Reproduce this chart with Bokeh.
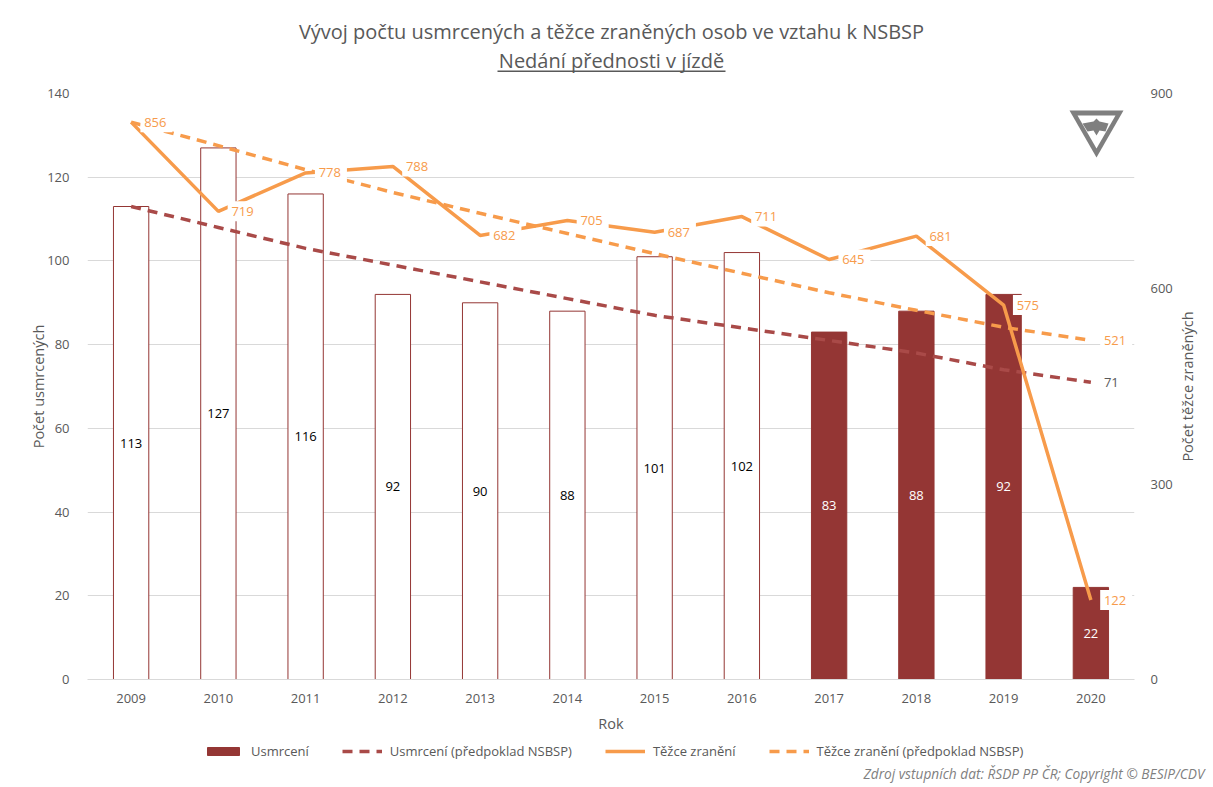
import math
from bokeh.plotting import figure
from bokeh.layouts import column, row
from bokeh.models import (ColumnDataSource, Range1d, FactorRange, LinearAxis, FixedTicker, LabelSet, Label,
                          Legend, LegendItem, BoxAnnotation, PolyAnnotation)
from bokeh.core.properties import value
from bokeh.transform import dodge
from bokeh.embed import file_html
from bokeh.resources import INLINE

years = ["2009","2010","2011","2012","2013","2014","2015","2016","2017","2018","2019","2020"]
deaths = [113,127,116,92,90,88,101,102,83,88,92,22]
deaths_plan = [113,108,103,99,95,91,87,84,81,78,74,71]
injuries = [856,719,778,788,682,705,687,711,645,681,575,122]
injuries_plan = [856,820,783,748,716,685,654,624,594,567,541,521]
FONT = "Open Sans"
RED = "#943634"
RED_DASH = "#A94A48"
ORANGE = "#F79B4B"
GREY = "#595959"
GRID = "#D9D9D9"


def strip(width, height):
    s = figure(width=width, height=height, output_backend="svg", toolbar_location=None,
               x_range=Range1d(-100, -99), y_range=Range1d(-100, -99), x_axis_location=None, y_axis_location=None,
               min_border_left=0, min_border_right=0, min_border_top=0, min_border_bottom=0, frame_align=False,
               outline_line_color=None, background_fill_color="white", border_fill_color="white")
    s.xgrid.visible = False
    s.ygrid.visible = False
    return s


# header strip: the two-line title
h = strip(1213, 78)
h.add_layout(Label(x=611, y=47, x_units="screen", y_units="screen", text_align="center", text_baseline="middle",
                   text="Vývoj počtu usmrcených a těžce zraněných osob ve vztahu k NSBSP", text_font=FONT,
                   text_font_size="20px", text_color=GREY))
h.add_layout(Label(x=611, y=18, x_units="screen", y_units="screen", text_align="center", text_baseline="middle",
                   text="Nedání přednosti v jízdě", text_font=FONT, text_font_size="20px", text_color=GREY))
h.add_layout(BoxAnnotation(left=497, right=725, top=8, bottom=6.5, left_units="screen", right_units="screen",
                           top_units="screen", bottom_units="screen", fill_color=GREY, fill_alpha=1,
                           line_color=None, level="overlay"))

# main chart
p = figure(width=1175, height=659, output_backend="svg", toolbar_location=None,
           x_range=FactorRange(factors=years, range_padding=0),
           y_range=Range1d(0, 140), min_border_left=87, min_border_right=41, frame_align=False,
           min_border_top=15, min_border_bottom=58, outline_line_color=None,
           background_fill_color="white", border_fill_color="white")
p.extra_y_ranges = {"inj": Range1d(0, 900)}

src = ColumnDataSource(dict(year=years, plan=deaths_plan, inj=injuries, inj_plan=injuries_plan,
                            il=[str(i) for i in injuries]))
early = ColumnDataSource(dict(year=years[:8], deaths=deaths[:8], mid=[d / 2 for d in deaths[:8]], t=[str(d) for d in deaths[:8]]))
late = ColumnDataSource(dict(year=years[8:], deaths=deaths[8:], mid=[d / 2 for d in deaths[8:]], t=[str(d) for d in deaths[8:]]))
end_inj = ColumnDataSource(dict(year=years[-1:], v=injuries_plan[-1:], t=[str(injuries_plan[-1])]))
end_d = ColumnDataSource(dict(year=years[-1:], v=deaths_plan[-1:], t=[str(deaths_plan[-1])]))

p.xgrid.visible = False
p.ygrid.grid_line_color = GRID
p.ygrid.ticker = FixedTicker(ticks=[0,20,40,60,80,100,120,140])

p.vbar(x="year", top="deaths", width=0.405, source=early, fill_color="white", line_color=RED, line_width=1)
p.vbar(x="year", top="deaths", width=0.405, source=late, fill_color=RED, line_color=RED, line_width=1)
p.line("year", "plan", source=src, color=RED_DASH, line_width=3.5, line_dash="10 7")
p.line("year", "inj", source=src, color=ORANGE, line_width=3.5, y_range_name="inj")
p.line("year", "inj_plan", source=src, color=ORANGE, line_width=3.5, line_dash="10 7", y_range_name="inj")

# white boxes behind the line labels
shift = dodge("year", 0.29, range=p.x_range)
p.rect(x=shift, y="inj", width=32, height=20, width_units="screen", height_units="screen", source=src,
       fill_color="white", line_color=None, y_range_name="inj")
p.rect(x=shift, y="v", width=32, height=20, width_units="screen", height_units="screen", source=end_inj,
       fill_color="white", line_color=None, y_range_name="inj")

# axes
p.yaxis.ticker = FixedTicker(ticks=[0,20,40,60,80,100,120,140])
p.yaxis.axis_label = "Počet usmrcených"
p.xaxis.axis_label = "Rok"
right = LinearAxis(y_range_name="inj", ticker=FixedTicker(ticks=[0,300,600,900]))
p.add_layout(right, "right")
for ax in (p.xaxis[0], p.yaxis[0], right):
    ax.axis_line_color = None
    ax.major_tick_line_color = None
    ax.minor_tick_line_color = None
    ax.major_label_text_font = FONT
    ax.major_label_text_font_size = "13px"
    ax.major_label_text_color = GREY
    ax.axis_label_text_font = FONT
    ax.axis_label_text_font_size = "14.5px"
    ax.axis_label_text_font_style = "normal"
    ax.axis_label_text_color = GREY
p.xaxis[0].axis_line_color = GRID
p.xaxis[0].major_label_standoff = 8
p.xaxis[0].axis_label_standoff = 8
p.yaxis[0].major_label_standoff = 12
p.yaxis[0].axis_label_standoff = -4
right.major_label_standoff = 10

# right axis title, reading upward
r = strip(38, 659)
r.add_layout(Label(x=12, y=351, x_units="screen", y_units="screen", text_align="center", text_baseline="middle",
                   angle=math.pi / 2, text="Počet těžce zraněných", text_font=FONT, text_font_size="14.5px",
                   text_color=GREY))

# bar value labels
for s, c in ((early, "black"), (late, "white")):
    p.add_layout(LabelSet(x="year", y="mid", text="t", source=s, text_align="center", text_baseline="middle",
                          text_font=value(FONT), text_font_size="13px", text_color=c))

# line value labels
p.add_layout(LabelSet(x="year", y="inj", text="il", source=src, y_range_name="inj", text_align="left",
                      text_baseline="middle", x_offset=13, text_font=value(FONT), text_font_size="13px",
                      text_color=ORANGE))
p.add_layout(LabelSet(x="year", y="v", text="t", source=end_inj, y_range_name="inj", text_align="left",
                      text_baseline="middle", x_offset=13, text_font=value(FONT), text_font_size="13px",
                      text_color=ORANGE))
p.add_layout(LabelSet(x="year", y="v", text="t", source=end_d, text_align="left",
                      text_baseline="middle", x_offset=13, text_font=value(FONT), text_font_size="13px",
                      text_color=GREY))

# logo (frame-relative screen units, y up)
LOGO = "#7F7F7F"
def poly(xs, ys, c):
    p.add_layout(PolyAnnotation(xs=xs, ys=ys, xs_units="screen", ys_units="screen", fill_color=c, fill_alpha=1,
                                line_color=None, level="overlay"))
poly([982,1036,1009], [569,569,522], LOGO)
poly([990,1028,1009], [564,564,531], "white")
poly([995,1006,1009,1012,1021,1018,1012,1009,1006,1000], [556,558,561,558,556,548,549,544,549,548], LOGO)

# footer strip: legend and source note (its glyphs lie outside the strip's ranges, only the keys show)
f = strip(1213, 50)
idx = list(range(len(years)))
k0 = f.vbar(x=idx, top=deaths, width=0.4, fill_color=RED, line_color=RED)
k1 = f.line(idx, deaths_plan, color=RED_DASH, line_width=3.5, line_dash="10 7")
k2 = f.line(idx, injuries, color=ORANGE, line_width=3.5)
k3 = f.line(idx, injuries_plan, color=ORANGE, line_width=3.5, line_dash="10 7")
leg = Legend(items=[LegendItem(label="Usmrcení", renderers=[k0]),
                    LegendItem(label="Usmrcení (předpoklad NSBSP)", renderers=[k1]),
                    LegendItem(label="Těžce zranění", renderers=[k2]),
                    LegendItem(label="Těžce zranění (předpoklad NSBSP)", renderers=[k3])],
             orientation="horizontal", location=(203, 27), border_line_color=None, background_fill_alpha=0,
             label_text_font=FONT, label_text_font_size="13px", label_text_color=GREY,
             glyph_width=40, glyph_height=10, label_standoff=8, spacing=33, padding=3, margin=0)
f.add_layout(leg, "center")
f.add_layout(Label(x=1204, y=14, x_units="screen", y_units="screen", text_align="right", text_baseline="middle",
                   text="Zdroj vstupních dat: ŘSDP PP ČR; Copyright © BESIP/CDV", text_font=FONT,
                   text_font_size="13.7px", text_font_style="italic", text_color="#7F7F7F"))

page = column(h, row(p, r, spacing=0), f, spacing=0)
open("out.html", "w").write(file_html(page, INLINE))
